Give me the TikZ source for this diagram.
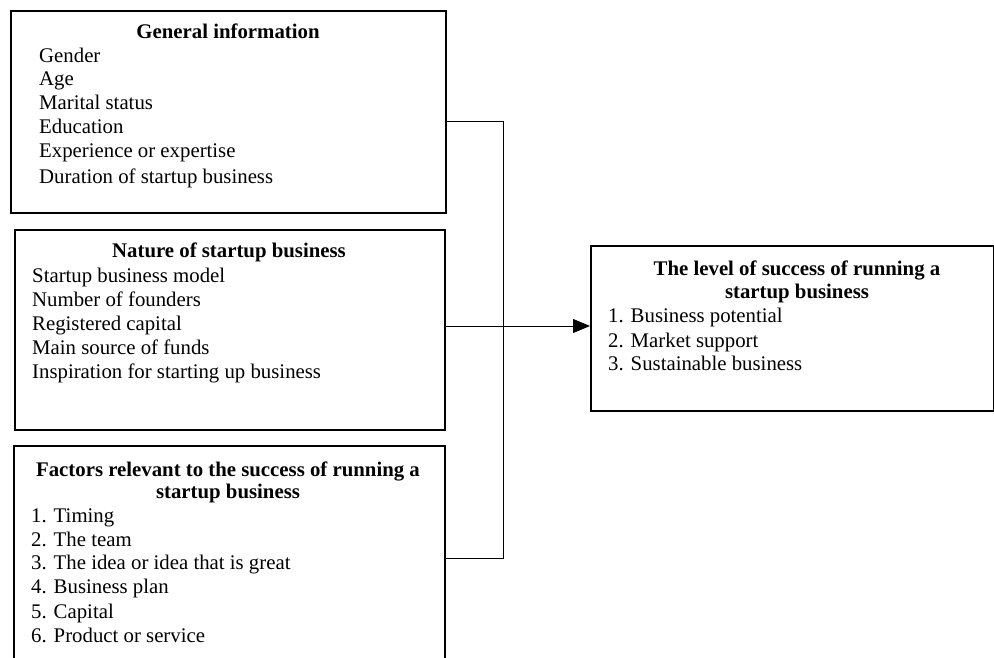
\documentclass[tikz,border=0pt]{standalone}
\usepackage{fontspec}
\setmainfont{Liberation Serif}
\usetikzlibrary{arrows.meta}
\begin{document}
\begin{tikzpicture}[x=1pt,y=-1pt,
  box/.style={draw, line width=1.8pt, inner sep=0pt, anchor=north west},
  ttl/.style={font=\fontsize{20.8}{24}\selectfont\bfseries, anchor=base, inner sep=0pt},
  itm/.style={font=\fontsize{20.8}{24}\selectfont, anchor=base west, inner sep=0pt},
  conn/.style={line width=0.9pt}]
\useasboundingbox[fill=white] (0,0) rectangle (994,658);
\begin{scope}
\clip (0,0) rectangle (994,658);
% boxes
\node[box, minimum width=435pt, minimum height=202pt] (b1) at (10,10) {};
\node[box, minimum width=430pt, minimum height=200pt] (b2) at (14,229) {};
\node[box, minimum width=431pt, minimum height=240pt] (b3) at (13,445) {};
\node[box, minimum width=403pt, minimum height=165pt] (b4) at (590,245) {};
\end{scope}
% box 1
\node[ttl] (t1) at (228,39) {General information};
\node[itm] (t1a) at (39,63) {Gender};
\node[itm] (t1b) at (39,86) {Age};
\node[itm] (t1c) at (39,110) {Marital status};
\node[itm] (t1d) at (39,134) {Education};
\node[itm] (t1e) at (39,158) {Experience or expertise};
\node[itm] (t1f) at (39,183) {Duration of startup business};
% box 2
\node[ttl] (t2) at (229,257) {Nature of startup business};
\node[itm] (t2a) at (32,282) {Startup business model};
\node[itm] (t2b) at (32,306) {Number of founders};
\node[itm] (t2c) at (32,330) {Registered capital};
\node[itm] (t2d) at (32,354) {Main source of funds};
\node[itm] (t2e) at (32,378) {Inspiration for starting up business};
% box 3
\node[ttl] (t3) at (228,476) {Factors relevant to the success of running a};
\node[ttl] (t3b) at (228,498) {startup business};
\node[itm] (t3c) at (31,522) {1. Timing};
\node[itm] (t3d) at (31,546) {2. The team};
\node[itm] (t3e) at (31,569) {3. The idea or idea that is great};
\node[itm] (t3f) at (31,593) {4. Business plan};
\node[itm] (t3g) at (31,618) {5. Capital};
\node[itm] (t3h) at (31,642) {6. Product or service};
% box 4
\node[ttl] (t4) at (797,275) {The level of success of running a};
\node[ttl] (t4b) at (797,298) {startup business};
\node[itm] (t4c) at (608,322) {1. Business potential};
\node[itm] (t4d) at (608,347) {2. Market support};
\node[itm] (t4e) at (608,370) {3. Sustainable business};
% connectors
\coordinate (j1) at (503,121);
\coordinate (j3) at (503,558);
\draw[conn] (b1.east |- j1) -- (j1) -- (j3) -- (b3.east |- j3);
\draw[conn, -{Triangle[length=17pt,width=14pt]}] (b2.east |- 0,326) -- (b4.west |- 0,326);
\end{tikzpicture}
\end{document}
